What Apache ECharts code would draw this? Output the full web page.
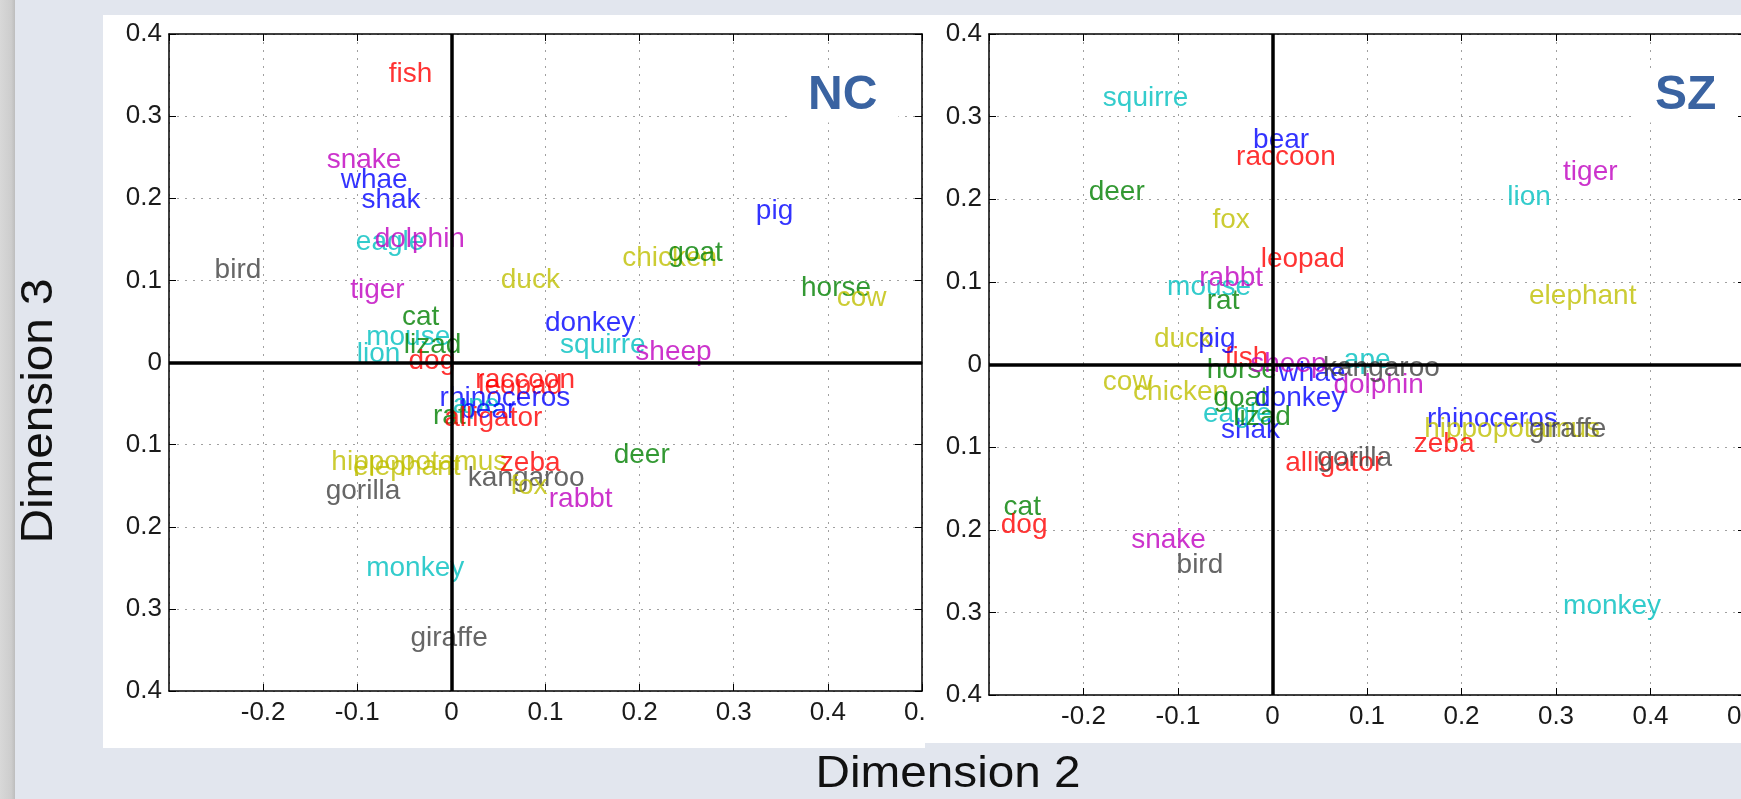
<!DOCTYPE html>
<html>
<head>
<meta charset="utf-8">
<title>NC / SZ - Dimension 2 vs Dimension 3</title>
<script src="https://cdn.jsdelivr.net/npm/echarts@6/dist/echarts.min.js"></script>
<style>
  html, body { margin: 0; padding: 0; background: #e2e6ee; }
  #chart { width: 1741px; height: 799px; }
</style>
</head>
<body>
<div id="chart"></div>
<script>
// labels exactly as they are printed on the plots
const animals = [
  'fish', 'snake', 'whae', 'shak', 'eagle', 'dolphin', 'bird', 'tiger', 'cat', 'mouse',
  'lizad', 'lion', 'dog', 'duck', 'pig', 'chicken', 'goat', 'horse', 'cow', 'donkey',
  'squirre', 'sheep', 'raccoon', 'leopad', 'rhinoceros', 'ape', 'bear', 'rat', 'alligator', 'hippopotamus',
  'elephant', 'zeba', 'kangaroo', 'fox', 'rabbt', 'deer', 'gorilla', 'monkey', 'giraffe'
]

// NC panel: dimension 2 (x), dimension 3 (y)
const ncDim2 = [
  -0.066, -0.132, -0.117, -0.095, -0.101, -0.081, -0.251, -0.107, -0.052, -0.090,
  -0.050, -0.100, -0.045, 0.053, 0.324, 0.182, 0.231, 0.372, 0.410, 0.100,
  0.116, 0.196, 0.026, 0.029, -0.012, 0.002, 0.010, -0.019, -0.007, -0.127,
  -0.104, 0.052, 0.018, 0.063, 0.104, 0.173, -0.133, -0.090, -0.043
]
const ncDim3 = [
  0.354, 0.249, 0.225, 0.201, 0.150, 0.153, 0.115, 0.091, 0.058, 0.034,
  0.024, 0.013, 0.005, 0.103, 0.187, 0.130, 0.136, 0.093, 0.081, 0.051,
  0.024, 0.016, -0.019, -0.026, -0.041, -0.049, -0.055, -0.063, -0.065, -0.118,
  -0.124, -0.120, -0.138, -0.148, -0.163, -0.110, -0.154, -0.248, -0.333
]

// SZ panel
const szDim2 = [
  -0.050, -0.149, 0.007, -0.054, -0.073, 0.065, -0.101, 0.308, -0.284, -0.111,
  -0.041, 0.249, -0.287, -0.125, -0.078, -0.147, -0.062, -0.069, -0.179, -0.018,
  -0.179, -0.023, -0.038, -0.012, 0.164, 0.076, -0.020, -0.069, 0.014, 0.161,
  0.272, 0.150, 0.054, -0.063, -0.077, -0.194, 0.048, 0.308, 0.272
]
const szDim3 = [
  0.011, -0.210, -0.008, -0.077, -0.057, -0.022, -0.240, 0.236, -0.170, 0.097,
  -0.061, 0.205, -0.192, 0.034, 0.034, -0.030, -0.038, -0.004, -0.018, -0.038,
  0.325, 0.003, 0.254, 0.130, -0.063, 0.008, 0.274, 0.080, -0.117, -0.075,
  0.085, -0.093, -0.002, 0.178, 0.107, 0.212, -0.111, -0.289, -0.075
]

// axis ranges
const dim2Range = [-0.3, 0.5]
const dim3Range = [-0.4, 0.4]
const tickStep = 0.1

const FONT = '"Liberation Sans", Arial, Helvetica, sans-serif'

// matlab style colour order, one colour per animal
const colorGroups = {
  '#ff0000': ['fish', 'dog', 'raccoon', 'leopad', 'alligator', 'zeba'],
  '#008000': ['cat', 'lizad', 'goat', 'horse', 'rat', 'deer'],
  '#0000ff': ['whae', 'shak', 'pig', 'donkey', 'rhinoceros', 'bear'],
  '#00bfbf': ['eagle', 'mouse', 'lion', 'squirre', 'ape', 'monkey'],
  '#bf00bf': ['snake', 'dolphin', 'tiger', 'sheep', 'rabbt'],
  '#bfbf00': ['duck', 'chicken', 'cow', 'hippopotamus', 'elephant', 'fox'],
  '#404040': ['bird', 'kangaroo', 'gorilla', 'giraffe'],
}
const colorOf = {}
Object.keys(colorGroups).forEach((c) => {
  colorGroups[c].forEach((name) => (colorOf[name] = c))
})

// one number format for ticks, minus sign is dropped on the y axis like the original
function fmt(v) {
  return String(Math.round(v * 10) / 10)
}

const panels = [
  { grid: { left: 169, top: 34, width: 753, height: 657 }, xs: ncDim2, ys: ncDim3, z: 0 },
  { grid: { left: 989, top: 34, width: 756, height: 661 }, xs: szDim2, ys: szDim3, z: 3 },
]

const boxLine = { show: true, onZero: false, lineStyle: { color: '#000', width: 1.5 } }
const inTick = { show: true, inside: true, length: 7, lineStyle: { color: '#000', width: 1 } }
const dotted = { show: true, lineStyle: { color: '#a0a0a0', width: 1, type: [2, 6] } }
const tickFont = { fontSize: 26, fontFamily: FONT, color: '#1a1a1a' }

const xAxis = []
const yAxis = []
const series = []
panels.forEach((p, i) => {
  const base = { gridIndex: i, type: 'value', interval: tickStep, z: p.z }
  xAxis.push(
    {
      ...base, position: 'bottom', min: dim2Range[0], max: dim2Range[1],
      axisLine: boxLine, axisTick: inTick, splitLine: dotted,
      axisLabel: { ...tickFont, margin: 9, showMinLabel: false, formatter: fmt },
    },
    {
      ...base, position: 'top', min: dim2Range[0], max: dim2Range[1],
      axisLine: boxLine, axisTick: inTick, splitLine: { show: false }, axisLabel: { show: false },
    }
  )
  yAxis.push(
    {
      ...base, position: 'left', min: dim3Range[0], max: dim3Range[1],
      axisLine: boxLine, axisTick: inTick, splitLine: dotted,
      axisLabel: { ...tickFont, margin: 7, formatter: (v) => fmt(Math.abs(v)) },
    },
    {
      ...base, position: 'right', min: dim3Range[0], max: dim3Range[1],
      axisLine: boxLine, axisTick: inTick, splitLine: { show: false }, axisLabel: { show: false },
    }
  )
  series.push({
    type: 'scatter',
    xAxisIndex: i * 2,
    yAxisIndex: i * 2,
    z: p.z + 1,
    silent: true,
    symbolSize: 1,
    itemStyle: { color: 'transparent' },
    // text starts at the point, vertically centred on it (matlab text() default)
    label: {
      show: true,
      position: [0, 3],
      align: 'left',
      verticalAlign: 'middle',
      fontSize: 28,
      fontFamily: FONT,
      formatter: '{b}',
    },
    labelLayout: { hideOverlap: false },
    data: animals.map((name, k) => ({
      name,
      value: [p.xs[k], p.ys[k]],
      label: { color: colorOf[name] },
    })),
    // thick zero lines
    markLine: {
      silent: true,
      symbol: ['none', 'none'],
      label: { show: false },
      lineStyle: { color: '#000', width: 3.5, type: 'solid' },
      data: [{ xAxis: 0 }, { yAxis: 0 }],
    },
  })
})

// panel letters with a white box that cuts the grid line behind them
function panelTag(text, x) {
  return {
    type: 'text',
    x,
    y: 96,
    z: 10,
    style: {
      text,
      font: 'bold 48px ' + FONT,
      fill: '#3a63a1',
      align: 'left',
      verticalAlign: 'middle',
      backgroundColor: '#fff',
      padding: [0, 21, 5, 18],
    },
  }
}

// outer axis titles, the original face is a bit wider than Liberation Sans
function axisTitle(text, x, y, rotation) {
  return {
    type: 'text',
    x,
    y,
    z: 10,
    rotation,
    scaleX: 1.06,
    style: { text, font: '45px ' + FONT, fill: '#111', align: 'center', verticalAlign: 'middle' },
  }
}

const graphic = [
  {
    type: 'rect',
    z: -20,
    shape: { x: 0, y: 0, width: 15, height: 799 },
    style: {
      fill: {
        type: 'linear', x: 0, y: 0, x2: 1, y2: 0,
        colorStops: [
          { offset: 0, color: '#d8d8d8' },
          { offset: 0.75, color: '#cdcdcd' },
          { offset: 1, color: '#bdbdbd' },
        ],
      },
    },
  },
  // left white panel
  { type: 'rect', z: -10, shape: { x: 103, y: 15, width: 822, height: 733 }, style: { fill: '#fff' } },
  // right white panel, sits over the end of the left axis labels
  { type: 'rect', z: 1, shape: { x: 925, y: 15, width: 816, height: 728 }, style: { fill: '#fff' } },
  panelTag('NC', 790),
  panelTag('SZ', 1637),
  axisTitle('Dimension 2', 948, 775, 0),
  axisTitle('Dimension 3', 40, 411, Math.PI / 2),
]

const chart = echarts.init(document.getElementById('chart'))
chart.setOption({
  animation: false,
  backgroundColor: '#e2e6ee',
  grid: panels.map((p) => ({ ...p.grid, outerBoundsMode: 'none' })),
  xAxis,
  yAxis,
  series,
  graphic,
})
</script>
</body>
</html>
